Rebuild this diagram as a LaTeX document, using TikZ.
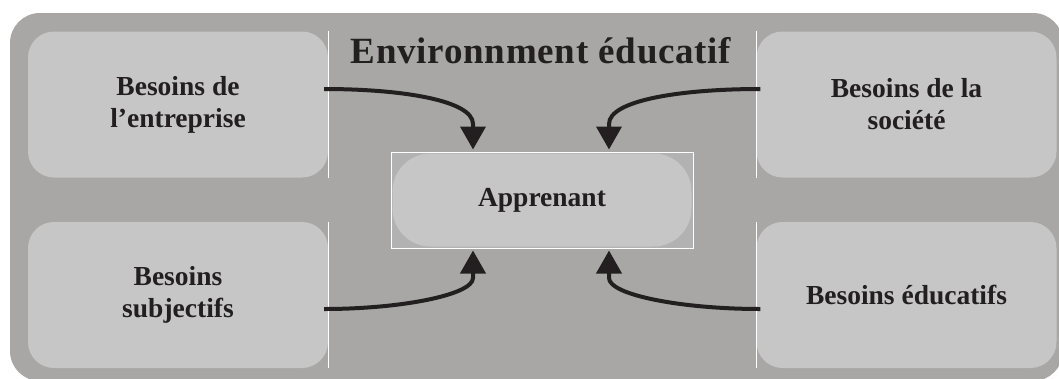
\documentclass[tikz,border=0pt]{standalone}
\usepackage{fontspec}
\setmainfont{Liberation Serif}
\usetikzlibrary{arrows.meta,calc}
\definecolor{outergray}{RGB}{168,167,165}
\definecolor{boxgray}{RGB}{198,198,198}
\definecolor{cornergray}{RGB}{178,178,178}
\definecolor{ink}{RGB}{35,31,32}
\begin{document}
\begin{tikzpicture}[x=1pt,y=-1pt,
  needbox/.style={fill=boxgray, rounded corners=26pt, minimum width=300pt, minimum height=146pt,
    align=center, font=\fontsize{27.5}{32}\selectfont\bfseries, text=ink, inner sep=0pt},
  flow/.style={line width=4pt, draw=ink, -{Triangle[width=25pt,length=23pt]}},
  sepline/.style={draw=white, line width=1pt}]
\fill[white] (0,0) rectangle (1059,378);
\useasboundingbox (0,0) rectangle (1059,378);
\fill[outergray, rounded corners=30pt] (10,13) rectangle (1063,381);
% corner boxes
\node[needbox] (tl) at (178,104.5) {Besoins de\\l'entreprise};
\node[needbox] (tr) at (906.5,104.5) {Besoins de la\\société};
\node[needbox] (bl) at (178,295) {Besoins\\subjectifs};
\node[needbox] (br) at (906.5,295) {Besoins éducatifs};
\draw[sepline] (tl.north east) -- (tl.south east);
\draw[sepline] (bl.north east) -- (bl.south east);
\draw[sepline] (tr.north west) -- (tr.south west);
\draw[sepline] (br.north west) -- (br.south west);
% title
\node[anchor=base, font=\fontsize{37}{40}\selectfont\bfseries\addfontfeature{LetterSpace=2}, text=ink, inner sep=0pt] (title) at (541,63) {Environnment éducatif};
% central box
\node[draw=white, line width=1pt, fill=cornergray, minimum width=302pt, minimum height=96pt, inner sep=0pt] (ap) at (542,200) {};
\node[fill=boxgray, rounded corners=38pt, minimum width=299pt, minimum height=93pt, inner sep=0pt,
  font=\fontsize{27.5}{32}\selectfont\bfseries, text=ink] (apin) at (ap.center) {Apprenant};
% arrows
\draw[flow] ($(tl.east)+(-4,-15.5)$) .. controls (400,89) and (473,100) .. (473,124) -- ($(ap.north)+(-69,-2)$);
\draw[flow] ($(tr.west)+(4,-15.5)$) .. controls (682,89) and (609,100) .. (609,124) -- ($(ap.north)+(67,-2)$);
\draw[flow] ($(bl.east)+(-4,14)$) .. controls (400,309) and (473,295) .. (473,278) -- ($(ap.south)+(-69,2)$);
\draw[flow] ($(br.west)+(4,14)$) .. controls (682,309) and (609,295) .. (609,278) -- ($(ap.south)+(67,2)$);
\end{tikzpicture}
\end{document}
